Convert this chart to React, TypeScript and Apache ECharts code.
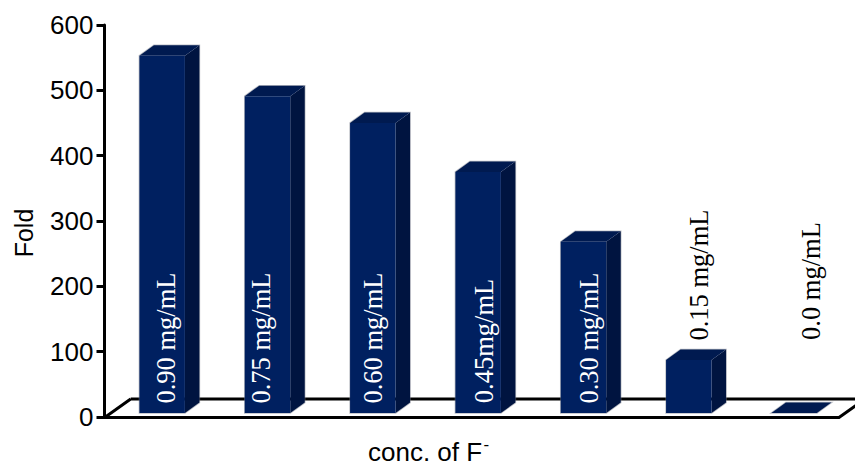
import React, { useEffect, useRef } from "react";
import * as echarts from "echarts";

const concentrations = ["0.90 mg/mL", "0.75 mg/mL", "0.60 mg/mL", "0.45mg/mL", "0.30 mg/mL", "0.15 mg/mL", "0.0 mg/mL"];
const foldValues = [547, 485, 444, 369, 262, 81, 0];
const yTicks = [0, 100, 200, 300, 400, 500, 600];

const FRONT = "#002060";
const SIDE = "#001440";
const TOP = "#001a50";
const HALO = "rgba(120,125,140,0.5)";
const BASE_LIFT = 4;
const BAR_SHIFT = 5;
const BAR_W = 45.5;
const DEPTH_X = 14.5;
const DEPTH_Y = 10.5;

// Rotated caption per bar: centre relative to the bar's category position, then pixel y.
const captionX = [9, -1, 5, 11, 11, 15, 22];
const captionY = [338, 338, 338, 341, 338, 275, 281];
const captionFill = ["#fff", "#fff", "#fff", "#fff", "#fff", "#000", "#000"];

function renderFloor(_: any, api: any) {
  const [x0, y0] = api.coord([0, 0]);
  const left = x0 - 52.5;
  const right = 839;
  const outline = [[left + 26, y0 - 18], [865, y0 - 18], [right, y0 + 0.5], [left, y0 + 0.5], [left + 26, y0 - 18]];
  return {
    type: "polyline",
    shape: { points: outline },
    style: { stroke: "#000", lineWidth: 3, fill: "none" },
  };
}

function renderBar(_: any, api: any) {
  const i = api.value(0);
  const [cx, y0] = api.coord([i, 0]);
  const [, yTop] = api.coord([i, api.value(1)]);
  const x1 = cx + BAR_SHIFT - BAR_W / 2;
  const x2 = x1 + BAR_W;
  const bottom = y0 - BASE_LIFT;
  const top = yTop - BASE_LIFT;
  const poly = (points: number[][], fill: string) => ({
    type: "polygon",
    shape: { points },
    style: { fill },
  });
  return {
    type: "group",
    children: [
      {
        type: "polygon",
        shape: {
          points: [
            [x1, bottom], [x2, bottom], [x2 + DEPTH_X, bottom - DEPTH_Y], [x2 + DEPTH_X, top - DEPTH_Y],
            [x1 + DEPTH_X, top - DEPTH_Y], [x1, top],
          ],
        },
        style: { fill: "none", stroke: HALO, lineWidth: 1.5 },
      },
      poly([[x2, bottom], [x2 + DEPTH_X, bottom - DEPTH_Y], [x2 + DEPTH_X, top - DEPTH_Y], [x2, top]], SIDE),
      poly([[x1, top], [x2, top], [x2 + DEPTH_X, top - DEPTH_Y], [x1 + DEPTH_X, top - DEPTH_Y]], TOP),
      poly([[x1, bottom], [x2, bottom], [x2, top], [x1, top]], FRONT),
      {
        type: "text",
        x: cx + captionX[i],
        y: captionY[i],
        rotation: Math.PI / 2,
        z2: 10,
        style: {
          text: concentrations[i],
          x: 0,
          y: 0,
          align: "center",
          verticalAlign: "middle",
          fill: captionFill[i],
          font: '26.5px "Liberation Serif"',
        },
      },
    ],
  };
}

export default function App() {
  const ref = useRef<HTMLDivElement>(null);
  useEffect(() => {
    const chart = echarts.init(ref.current!, undefined, { renderer: "svg" });
    chart.setOption({
      animation: false,
      backgroundColor: "#fff",
      grid: { left: 104.5, top: 25, width: 737.3, height: 392, outerBoundsMode: "none" },
      xAxis: {
        type: "category",
        data: concentrations,
        axisLine: { show: false },
        axisTick: { show: false },
        axisLabel: { show: false },
      },
      yAxis: {
        type: "value",
        min: yTicks[0],
        max: yTicks[yTicks.length - 1],
        interval: 100,
        splitLine: { show: false },
        axisLine: { show: true, lineStyle: { color: "#000", width: 3 } },
        axisTick: { show: true, length: 8, lineStyle: { color: "#000", width: 3 } },
        axisLabel: { fontFamily: "Liberation Sans", fontSize: 26, color: "#000", margin: 11 },
        name: "Fold",
        nameLocation: "middle",
        nameGap: 68,
        nameTextStyle: { fontFamily: "Liberation Sans", fontSize: 25, color: "#000", padding: [0, 24, 0, 0] },
      },
      // The x-axis title sits left of the plot centre, with a raised minus after the F.
      graphic: [
        {
          type: "text",
          x: 368,
          y: 451.5,
          style: {
            text: "conc. of F",
            fontFamily: "Liberation Sans",
            fontSize: 26,
            fill: "#000",
            align: "left",
            verticalAlign: "middle",
          },
        },
        {
          type: "text",
          x: 483.5,
          y: 444,
          style: {
            text: "-",
            fontFamily: "Liberation Sans",
            fontSize: 17,
            fill: "#000",
            align: "left",
            verticalAlign: "middle",
          },
        },
      ],
      series: [
        { type: "custom", coordinateSystem: "cartesian2d", silent: true, data: [[0, 0]], renderItem: renderFloor, clip: false, z: 1 },
        {
          type: "custom",
          coordinateSystem: "cartesian2d",
          silent: true,
          data: foldValues.map((v, i) => [i, v]),
          encode: { x: 0, y: 1 },
          renderItem: renderBar,
          clip: false,
          z: 2,
        },
      ],
    });
    return () => chart.dispose();
  }, []);
  return <div ref={ref} style={{ position: "fixed", left: 0, top: 0, width: 855, height: 465 }} />;
}
